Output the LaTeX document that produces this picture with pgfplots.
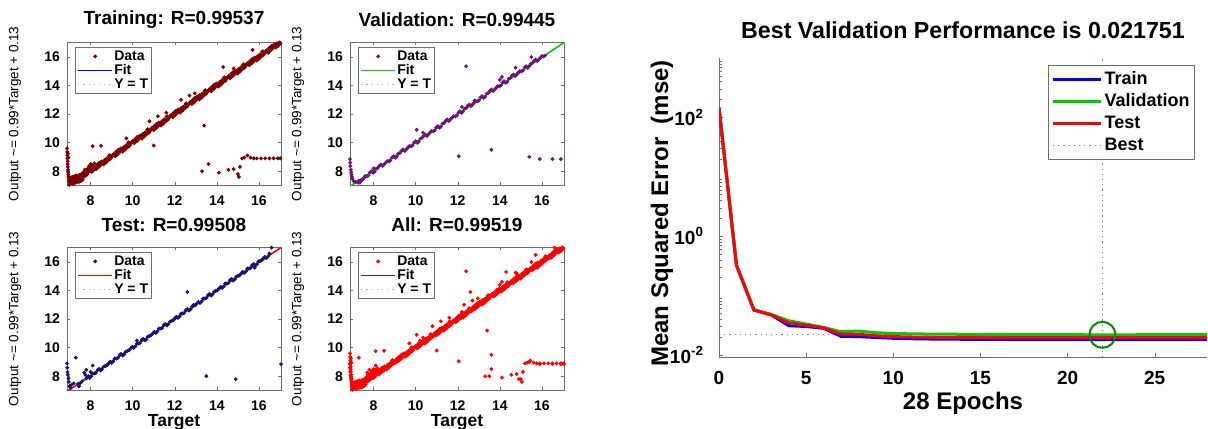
\documentclass[border=0pt]{standalone}
\usepackage{pgfplots}
\pgfplotsset{compat=1.18}
\usepackage{pgfplotstable}
\usepackage{fontspec}
\setmainfont{Liberation Sans}
\definecolor{trdata}{RGB}{128,0,0}
\definecolor{vadata}{RGB}{110,20,120}
\definecolor{tedata}{RGB}{20,20,120}
\definecolor{aldata}{RGB}{255,0,0}
\definecolor{mgreen}{RGB}{0,205,0}
\definecolor{bestgreen}{RGB}{0,140,0}
\definecolor{axgray}{RGB}{110,110,110}

\pgfplotstableread[row sep=\\]{x y\\
6.88 9.60\\ 6.89 9.35\\ 6.90 9.10\\ 6.90 8.90\\ 6.91 8.70\\ 6.91 8.50\\ 6.92 8.30\\ 6.93 8.10\\ 6.93 7.95\\ 6.94 7.80\\
6.95 7.65\\ 6.96 7.50\\ 6.97 7.38\\ 6.98 7.25\\ 7.00 7.15\\ 7.02 7.22\\ 7.05 7.32\\ 7.08 7.16\\ 7.10 7.26\\ 7.12 7.42\\
7.15 7.20\\ 7.18 7.36\\ 7.20 7.50\\ 7.22 7.28\\ 7.25 7.44\\ 7.28 7.60\\ 7.30 7.30\\ 7.33 7.48\\ 7.35 7.26\\ 7.38 7.56\\
7.40 7.40\\ 7.42 7.66\\ 7.45 7.36\\ 7.48 7.58\\ 7.50 7.72\\ 7.52 7.46\\ 7.55 7.63\\ 7.58 7.82\\ 7.60 7.56\\ 7.63 7.76\\
7.66 7.92\\ 7.70 7.72\\ 7.73 7.90\\ 7.76 8.06\\ 7.80 7.86\\ 7.83 8.02\\ 7.87 8.18\\ 7.90 7.96\\ 7.94 8.12\\ 7.98 8.28\\
8.02 8.06\\ 8.06 8.22\\ 8.10 8.42\\ 8.15 8.20\\
7.03 7.40\\ 7.07 7.55\\ 7.13 7.60\\ 7.17 7.12\\ 7.23 7.65\\ 7.27 7.18\\ 7.32 7.70\\ 7.37 7.40\\ 7.43 7.22\\ 7.47 7.75\\
7.53 7.30\\ 7.57 7.50\\ 7.62 7.40\\ 7.68 7.60\\ 7.72 8.10\\ 7.78 7.70\\ 7.85 7.80\\ 7.92 8.35\\ 8.00 8.50\\ 8.05 7.95\\
8.12 8.05\\ 8.18 8.55\\ 6.99 7.05\\ 6.95 8.95\\ 6.92 9.25\\
8.20 8.30\\ 8.27 8.15\\ 8.34 8.38\\ 8.41 8.59\\ 8.48 8.43\\ 8.55 8.63\\ 8.62 8.47\\ 8.69 8.71\\ 8.76 8.88\\ 8.83 8.75\\
8.90 9.12\\ 8.97 8.95\\ 9.04 9.10\\ 9.11 9.21\\ 9.18 9.06\\ 9.25 9.29\\ 9.32 9.50\\ 9.39 9.34\\ 9.46 9.54\\ 9.53 9.38\\
9.60 9.62\\ 9.67 9.79\\ 9.74 9.66\\ 9.81 10.03\\ 9.88 9.86\\ 9.95 10.01\\ 10.02 10.12\\ 10.09 9.97\\ 10.16 10.20\\ 10.23 10.41\\
10.30 10.25\\ 10.37 10.45\\ 10.44 10.29\\ 10.51 10.53\\ 10.58 10.70\\ 10.65 10.57\\ 10.72 10.94\\ 10.79 10.77\\ 10.86 10.92\\ 10.93 11.03\\
11.00 10.88\\ 11.07 11.11\\ 11.14 11.32\\ 11.21 11.16\\ 11.28 11.36\\ 11.35 11.20\\ 11.42 11.44\\ 11.49 11.61\\ 11.56 11.48\\ 11.63 11.85\\
11.70 11.68\\ 11.77 11.83\\ 11.84 11.94\\ 11.91 11.79\\ 11.98 12.02\\ 12.05 12.23\\ 12.12 12.07\\ 12.19 12.27\\ 12.26 12.11\\ 12.33 12.35\\
12.40 12.52\\ 12.47 12.39\\ 12.54 12.76\\ 12.61 12.59\\ 12.68 12.74\\ 12.75 12.85\\ 12.82 12.70\\ 12.89 12.93\\ 12.96 13.14\\ 13.03 12.98\\
13.10 13.18\\ 13.17 13.02\\ 13.24 13.26\\ 13.31 13.43\\ 13.38 13.30\\ 13.45 13.67\\ 13.52 13.50\\ 13.59 13.65\\ 13.66 13.76\\ 13.73 13.61\\
13.80 13.84\\ 13.87 14.05\\ 13.94 13.89\\ 14.01 14.09\\ 14.08 13.93\\ 14.15 14.17\\ 14.22 14.34\\ 14.29 14.21\\ 14.36 14.58\\ 14.43 14.41\\
14.50 14.56\\ 14.57 14.67\\ 14.64 14.52\\ 14.71 14.75\\ 14.78 14.96\\ 14.85 14.80\\ 14.92 15.00\\ 14.99 14.84\\ 15.06 15.08\\ 15.13 15.25\\
15.20 15.12\\ 15.27 15.49\\ 15.34 15.32\\ 15.41 15.47\\ 15.48 15.58\\ 15.55 15.43\\ 15.62 15.66\\ 15.69 15.87\\ 15.76 15.71\\ 15.83 15.91\\
15.90 15.75\\ 15.97 15.99\\ 16.04 16.16\\ 16.11 16.03\\ 16.18 16.40\\ 16.25 16.23\\ 16.32 16.38\\ 16.39 16.49\\ 16.46 16.34\\ 16.53 16.57\\
16.60 16.78\\ 16.67 16.62\\ 16.74 16.82\\ 16.81 16.66\\ 16.88 16.90\\ 16.95 16.98\\ 17.02 16.94\\
8.24 8.18\\ 8.31 8.45\\ 8.38 8.28\\ 8.45 8.52\\ 8.52 8.68\\ 8.59 8.55\\ 8.66 8.77\\ 8.73 8.60\\ 8.80 8.85\\ 8.87 9.06\\
8.94 8.87\\ 9.01 9.02\\ 9.08 9.17\\ 9.15 9.09\\ 9.22 9.36\\ 9.29 9.19\\ 9.36 9.43\\ 9.43 9.59\\ 9.50 9.46\\ 9.57 9.68\\
9.64 9.51\\ 9.71 9.76\\ 9.78 9.97\\ 9.85 9.78\\ 9.92 9.93\\ 9.99 10.08\\ 10.06 10.00\\ 10.13 10.27\\ 10.20 10.10\\ 10.27 10.34\\
10.34 10.50\\ 10.41 10.37\\ 10.48 10.59\\ 10.55 10.42\\ 10.62 10.67\\ 10.69 10.88\\ 10.76 10.69\\ 10.83 10.84\\ 10.90 10.99\\ 10.97 10.91\\
11.04 11.18\\ 11.11 11.01\\ 11.18 11.25\\ 11.25 11.41\\ 11.32 11.28\\ 11.39 11.50\\ 11.46 11.33\\ 11.53 11.58\\ 11.60 11.79\\ 11.67 11.60\\
11.74 11.75\\ 11.81 11.90\\ 11.88 11.82\\ 11.95 12.09\\ 12.02 11.92\\ 12.09 12.16\\ 12.16 12.32\\ 12.23 12.19\\ 12.30 12.41\\ 12.37 12.24\\
12.44 12.49\\ 12.51 12.70\\ 12.58 12.51\\ 12.65 12.66\\ 12.72 12.81\\ 12.79 12.73\\ 12.86 13.00\\ 12.93 12.83\\ 13.00 13.07\\ 13.07 13.23\\
13.14 13.10\\ 13.21 13.32\\ 13.28 13.15\\ 13.35 13.40\\ 13.42 13.61\\ 13.49 13.42\\ 13.56 13.57\\ 13.63 13.72\\ 13.70 13.64\\ 13.77 13.91\\
13.84 13.74\\ 13.91 13.98\\ 13.98 14.14\\ 14.05 14.01\\ 14.12 14.23\\ 14.19 14.06\\ 14.26 14.31\\ 14.33 14.52\\ 14.40 14.33\\ 14.47 14.48\\
14.54 14.63\\ 14.61 14.55\\ 14.68 14.82\\ 14.75 14.65\\ 14.82 14.89\\ 14.89 15.05\\ 14.96 14.92\\ 15.03 15.14\\ 15.10 14.97\\ 15.17 15.22\\
15.24 15.43\\ 15.31 15.24\\ 15.38 15.39\\ 15.45 15.54\\ 15.52 15.46\\ 15.59 15.73\\ 15.66 15.56\\ 15.73 15.80\\ 15.80 15.96\\ 15.87 15.83\\
15.94 16.05\\ 16.01 15.88\\ 16.08 16.13\\ 16.15 16.34\\ 16.22 16.15\\ 16.29 16.30\\ 16.36 16.45\\ 16.43 16.37\\ 16.50 16.64\\ 16.57 16.47\\
16.64 16.71\\ 16.71 16.87\\ 16.78 16.74\\ 16.85 16.96\\ 16.92 16.79\\ 16.99 17.02\\
8.10 9.75\\ 8.50 9.78\\ 9.70 10.30\\ 10.80 11.50\\ 11.00 9.80\\ 11.20 11.85\\ 12.30 13.00\\ 12.70 13.30\\ 12.95 13.45\\ 13.20 13.35\\
13.40 11.20\\ 13.30 8.00\\ 13.60 8.50\\ 14.10 7.90\\ 14.55 8.10\\ 14.80 8.15\\ 15.00 7.80\\ 15.05 7.60\\ 15.10 8.30\\ 15.20 8.90\\
15.30 8.95\\ 15.45 9.10\\ 15.60 8.95\\ 15.75 8.90\\ 15.90 8.90\\ 16.10 8.90\\ 16.30 8.90\\ 16.50 8.90\\ 16.70 8.90\\ 16.90 8.90\\
17.02 8.90\\ 14.30 15.30\\ 15.70 16.50\\ 16.45 16.30\\ 11.60 12.10\\ 14.80 15.20\\
}\traindata

\pgfplotstableread[row sep=\\]{x y\\
6.88 8.85\\ 6.89 8.60\\ 6.90 8.35\\ 6.92 8.10\\ 6.93 7.90\\ 6.95 7.75\\ 6.97 7.60\\ 7.00 7.45\\ 7.05 7.30\\ 7.15 7.25\\
7.25 7.20\\ 7.30 7.35\\ 7.35 7.20\\ 7.40 7.30\\ 7.45 7.40\\ 7.50 7.45\\ 7.55 7.55\\
7.60 7.66\\ 7.75 7.70\\ 7.90 8.00\\ 8.05 7.97\\ 8.20 8.23\\ 8.35 8.47\\ 8.50 8.47\\ 8.65 8.71\\ 8.80 8.75\\ 8.95 9.05\\
9.10 9.02\\ 9.25 9.28\\ 9.40 9.52\\ 9.55 9.52\\ 9.70 9.76\\ 9.85 9.80\\ 10.00 10.10\\ 10.15 10.07\\ 10.30 10.33\\ 10.45 10.57\\
10.60 10.57\\ 10.75 10.81\\ 10.90 10.85\\ 11.05 11.15\\ 11.20 11.12\\ 11.35 11.38\\ 11.50 11.62\\ 11.65 11.62\\ 11.80 11.86\\ 11.95 11.90\\
12.10 12.20\\ 12.25 12.17\\ 12.40 12.43\\ 12.55 12.67\\ 12.70 12.67\\ 12.85 12.91\\ 13.00 12.95\\ 13.15 13.25\\ 13.30 13.22\\ 13.45 13.48\\
13.60 13.72\\ 13.75 13.72\\ 13.90 13.96\\ 14.05 14.00\\ 14.20 14.30\\ 14.35 14.27\\ 14.50 14.53\\ 14.65 14.77\\ 14.80 14.77\\ 14.95 15.01\\
15.10 15.05\\ 15.25 15.35\\ 15.40 15.37\\ 15.55 15.58\\ 15.70 15.82\\ 15.85 15.82\\ 16.00 16.06\\ 16.15 16.10\\
7.68 7.64\\ 7.83 7.91\\ 7.98 7.89\\ 8.13 8.18\\ 8.28 8.39\\ 8.43 8.37\\ 8.58 8.60\\ 8.73 8.69\\ 8.88 8.96\\ 9.03 8.94\\
9.18 9.23\\ 9.33 9.44\\ 9.48 9.42\\ 9.63 9.65\\ 9.78 9.74\\ 9.93 10.01\\ 10.08 9.99\\ 10.23 10.28\\ 10.38 10.49\\ 10.53 10.47\\
10.68 10.70\\ 10.83 10.79\\ 10.98 11.06\\ 11.13 11.04\\ 11.28 11.33\\ 11.43 11.54\\ 11.58 11.52\\ 11.73 11.75\\ 11.88 11.84\\ 12.03 12.11\\
12.18 12.09\\ 12.33 12.38\\ 12.48 12.59\\ 12.63 12.57\\ 12.78 12.80\\ 12.93 12.89\\ 13.08 13.16\\ 13.23 13.14\\ 13.38 13.43\\ 13.53 13.64\\
13.68 13.62\\ 13.83 13.85\\ 13.98 13.94\\ 14.13 14.21\\ 14.28 14.19\\ 14.43 14.48\\ 14.58 14.69\\ 14.73 14.67\\ 14.88 14.90\\ 15.03 14.99\\
15.18 15.26\\ 15.33 15.24\\ 15.48 15.53\\ 15.63 15.74\\ 15.78 15.72\\ 15.93 15.95\\ 16.08 16.04\\
12.05 9.05\\ 13.60 9.50\\ 15.40 9.00\\ 15.90 8.85\\ 16.50 8.85\\ 16.90 8.85\\ 12.40 15.35\\ 14.00 14.40\\ 14.10 14.60\\ 15.50 16.00\\
10.05 10.90\\ 10.35 10.70\\ 12.20 12.50\\ 14.75 15.25\\ 12.80 12.95\\ 8.00 8.20\\
}\valdata

\pgfplotstableread[row sep=\\]{x y\\
6.88 8.90\\ 6.89 8.60\\ 6.90 8.30\\ 6.92 8.10\\ 6.95 7.85\\ 6.97 7.60\\ 7.00 7.30\\ 7.05 7.20\\ 7.10 7.40\\ 7.20 7.50\\
7.30 9.30\\ 7.40 7.45\\ 7.45 7.30\\ 7.50 7.50\\ 7.60 7.65\\ 7.70 8.25\\ 7.75 8.10\\ 7.80 8.45\\ 7.90 8.00\\ 8.10 8.75\\ 8.00 8.30\\
7.80 7.84\\ 7.95 7.88\\ 8.10 8.19\\ 8.25 8.23\\ 8.40 8.51\\ 8.55 8.49\\ 8.70 8.72\\ 8.85 8.89\\ 9.00 8.93\\ 9.15 9.24\\
9.30 9.28\\ 9.45 9.56\\ 9.60 9.54\\ 9.75 9.77\\ 9.90 9.94\\ 10.05 9.98\\ 10.20 10.29\\ 10.35 10.33\\ 10.50 10.61\\ 10.65 10.59\\
10.80 10.82\\ 10.95 10.99\\ 11.10 11.03\\ 11.25 11.34\\ 11.40 11.38\\ 11.55 11.66\\ 11.70 11.64\\ 11.85 11.87\\ 12.00 12.04\\ 12.15 12.08\\
12.30 12.39\\ 12.45 12.43\\ 12.60 12.71\\ 12.75 12.69\\ 12.90 12.92\\ 13.05 13.09\\ 13.20 13.13\\ 13.35 13.44\\ 13.50 13.48\\ 13.65 13.76\\
13.80 13.74\\ 13.95 13.97\\ 14.10 14.14\\ 14.25 14.18\\ 14.40 14.49\\ 14.55 14.53\\ 14.70 14.81\\ 14.85 14.79\\ 15.00 15.02\\ 15.15 15.19\\
15.30 15.23\\ 15.45 15.54\\ 15.60 15.58\\ 15.75 15.86\\ 15.90 15.84\\ 16.05 16.07\\ 16.20 16.24\\ 16.35 16.28\\ 16.50 16.59\\
7.88 7.96\\ 8.03 7.99\\ 8.18 8.19\\ 8.33 8.43\\ 8.48 8.40\\ 8.63 8.68\\ 8.78 8.77\\ 8.93 9.01\\ 9.08 9.04\\ 9.23 9.24\\
9.38 9.48\\ 9.53 9.45\\ 9.68 9.73\\ 9.83 9.82\\ 9.98 10.06\\ 10.13 10.09\\ 10.28 10.29\\ 10.43 10.53\\ 10.58 10.50\\ 10.73 10.78\\
10.88 10.87\\ 11.03 11.11\\ 11.18 11.14\\ 11.33 11.34\\ 11.48 11.58\\ 11.63 11.55\\ 11.78 11.83\\ 11.93 11.92\\ 12.08 12.16\\ 12.23 12.19\\
12.38 12.39\\ 12.53 12.63\\ 12.68 12.60\\ 12.83 12.88\\ 12.98 12.97\\ 13.13 13.21\\ 13.28 13.24\\ 13.43 13.44\\ 13.58 13.68\\ 13.73 13.65\\
13.88 13.93\\ 14.03 14.02\\ 14.18 14.26\\ 14.33 14.29\\ 14.48 14.49\\ 14.63 14.73\\ 14.78 14.70\\ 14.93 14.98\\ 15.08 15.07\\ 15.23 15.31\\
15.38 15.34\\ 15.53 15.54\\ 15.68 15.78\\ 15.83 15.75\\ 15.98 16.03\\ 16.13 16.12\\ 16.28 16.36\\ 16.43 16.39\\
12.60 13.90\\ 13.50 8.00\\ 14.90 7.80\\ 17.05 8.85\\ 15.80 15.60\\ 16.60 17.00\\ 10.20 10.50\\ 12.90 13.00\\
}\testdata

\pgfplotstableread[row sep=\\]{ep train val test\\
0 145 145 145\\
1 0.325 0.330 0.325\\
2 0.057 0.058 0.057\\
3 0.047 0.048 0.047\\
4 0.031 0.0375 0.0347\\
5 0.030 0.033 0.0316\\
6 0.028 0.029 0.0286\\
7 0.0205 0.0245 0.0224\\
8 0.0203 0.0252 0.0222\\
9 0.0196 0.0236 0.0210\\
10 0.0190 0.0229 0.0203\\
11 0.0187 0.0226 0.0200\\
12 0.0185 0.0224 0.0198\\
13 0.0184 0.0223 0.0197\\
14 0.0183 0.0222 0.0197\\
15 0.0182 0.0221 0.0196\\
16 0.0182 0.0221 0.0196\\
17 0.0181 0.0220 0.0196\\
18 0.0181 0.0220 0.0195\\
19 0.0181 0.0219 0.0195\\
20 0.0180 0.0219 0.0195\\
21 0.0180 0.0218 0.0195\\
22 0.0180 0.021751 0.0195\\
23 0.0180 0.02178 0.0195\\
24 0.0180 0.02181 0.0195\\
25 0.0180 0.02183 0.0195\\
26 0.0180 0.02185 0.0195\\
27 0.0180 0.02187 0.0195\\
28 0.0180 0.02190 0.0195\\
}\perfdata

\pgfplotsset{
  regr/.style={
    anchor=south west, scale only axis, width=107pt, height=71.75pt,
    xmin=6.88, xmax=17.05, ymin=7.0, ymax=17.05,
    xtick={8,10,12,14,16}, ytick={8,10,12,14,16},
    tick align=inside, major tick length=1.6pt,
    axis line style={axgray}, tick style={axgray},
    /pgf/number format/assume math mode=true,
    ticklabel style={font=\fontsize{7}{8}\selectfont\bfseries},
    xticklabel style={yshift=-1.5pt},
    ylabel={Output \textasciitilde= 0.99*Target + 0.13},
    ylabel style={at={(axis description cs:-0.243,0.5)}, anchor=center, font=\fontsize{6.75}{8}\selectfont},
    title style={at={(axis description cs:0.5,1)}, anchor=center, yshift=5pt, font=\fontsize{9.5}{11}\selectfont\bfseries},
    xlabel style={at={(axis description cs:0.5,0)}, anchor=center, yshift=-16pt, font=\fontsize{8.75}{10}\selectfont\bfseries},
    legend style={at={(axis description cs:0.037,0.965)}, anchor=north west, draw=axgray,
      font=\fontsize{7}{7}\selectfont\bfseries, inner sep=1pt,
      nodes={inner sep=0.6pt, text height=5pt, text depth=0.8pt}},
    legend cell align=left,
  },
  dat/.style={only marks, mark=*, mark size=0.75pt, #1},
}

\begin{document}
\begin{tikzpicture}
\path[use as bounding box] (0,0) rectangle (604pt,214pt);

% Training
\begin{axis}[regr, at={(33.5pt,121.25pt)}, title={Training: R=0.99537}]
\addlegendimage{dat=trdata}
\addlegendimage{blue, line width=0.8pt}
\addlegendimage{gray!60, dotted, line width=0.6pt}
\addplot[gray!60, dotted, line width=0.6pt, forget plot] coordinates {(6.88,6.88) (17.05,17.05)};
\addplot[blue, line width=0.8pt, forget plot] coordinates {(6.88,6.94) (17.05,17.01)};
\addplot[dat=trdata, forget plot] table[x=x,y=y] {\traindata};
\legend{Data, Fit, Y = T}
\end{axis}

% Validation
\begin{axis}[regr, at={(175pt,121.25pt)}, title={Validation: R=0.99445}]
\addlegendimage{dat=vadata}
\addlegendimage{mgreen, line width=0.8pt}
\addlegendimage{gray!60, dotted, line width=0.6pt}
\addplot[gray!60, dotted, line width=0.6pt, forget plot] coordinates {(6.88,6.88) (17.05,17.05)};
\addplot[mgreen, line width=0.8pt, forget plot] coordinates {(6.88,6.94) (17.05,17.01)};
\addplot[dat=vadata, forget plot] table[x=x,y=y] {\valdata};
\legend{Data, Fit, Y = T}
\end{axis}

% Test
\begin{axis}[regr, at={(33.5pt,18.75pt)}, title={Test: R=0.99508}, xlabel={Target}]
\addlegendimage{dat=tedata}
\addlegendimage{red, line width=0.8pt}
\addlegendimage{gray!60, dotted, line width=0.6pt}
\addplot[gray!60, dotted, line width=0.6pt, forget plot] coordinates {(6.88,6.88) (17.05,17.05)};
\addplot[red, line width=0.8pt, forget plot] coordinates {(6.88,6.94) (17.05,17.01)};
\addplot[dat=tedata, forget plot] table[x=x,y=y] {\testdata};
\legend{Data, Fit, Y = T}
\end{axis}

% All
\begin{axis}[regr, at={(175pt,18.75pt)}, title={All: R=0.99519}, xlabel={Target}]
\addlegendimage{dat=aldata}
\addlegendimage{black!80, line width=0.8pt}
\addlegendimage{gray!60, dotted, line width=0.6pt}
\addplot[gray!60, dotted, line width=0.6pt, forget plot] coordinates {(6.88,6.88) (17.05,17.05)};
\addplot[black!80, line width=0.8pt, forget plot] coordinates {(6.88,6.94) (17.05,17.01)};
\addplot[dat=aldata, forget plot] table[x=x,y=y] {\traindata};
\addplot[dat=aldata, forget plot] table[x=x,y=y] {\valdata};
\addplot[dat=aldata, forget plot] table[x=x,y=y] {\testdata};
\legend{Data, Fit, Y = T}
\end{axis}

% Performance
\begin{axis}[
  at={(359.5pt,35.5pt)}, anchor=south west, scale only axis, width=244pt, height=149.5pt,
  xmin=0, xmax=28, ymode=log, ymin=0.0092, ymax=1000,
  axis x line*=bottom, axis y line*=left,
  hide obscured x ticks=false, hide obscured y ticks=false,
  axis line style={axgray}, tick style={axgray},
  tick align=inside, major tick length=2.2pt, minor tick length=1.3pt,
  xtick={0,5,10,15,20,25},
  ytick={0.01,1,100},
  yticklabels={10\textsuperscript{-2},10\textsuperscript{0},10\textsuperscript{2}},
  minor ytick={0.02,0.03,0.04,0.05,0.06,0.07,0.08,0.09,0.2,0.3,0.4,0.5,0.6,0.7,0.8,0.9,2,3,4,5,6,7,8,9,20,30,40,50,60,70,80,90,200,300,400,500,600,700,800,900},
  /pgf/number format/assume math mode=true,
  ticklabel style={font=\fontsize{9.5}{11}\selectfont\bfseries},
  xticklabel style={yshift=-3.5pt},
  yticklabel style={xshift=-4pt},
  title={Best Validation Performance is 0.021751},
  title style={at={(axis description cs:0.5,1)}, anchor=center, yshift=8pt, font=\fontsize{11.6}{13}\selectfont\bfseries},
  xlabel={28 Epochs},
  xlabel style={at={(axis description cs:0.5,0)}, anchor=center, yshift=-23pt, font=\fontsize{12}{14}\selectfont\bfseries},
  ylabel={Mean Squared Error\ \ (mse)},
  ylabel style={at={(axis description cs:-0.117,0.48)}, anchor=center, font=\fontsize{12}{14}\selectfont\bfseries},
  legend style={at={(axis description cs:0.9754,0.9766)}, anchor=north east, draw=axgray,
    font=\fontsize{9}{10}\selectfont\bfseries, inner sep=1.5pt,
    nodes={inner sep=1pt, text height=7pt, text depth=2pt}},
  legend cell align=left,
  legend image code/.code={\draw[#1] (0pt,0pt) -- (24pt,0pt);},
]
\addlegendimage{blue, line width=1.5pt}
\addlegendimage{mgreen, line width=1.5pt}
\addlegendimage{red, line width=1.5pt}
\addlegendimage{bestgreen!70, dotted, line width=0.6pt}
\addplot[bestgreen!70, dotted, line width=0.6pt, forget plot] coordinates {(22,0.0092) (22,1000)};
\addplot[bestgreen!70, dotted, line width=0.6pt, forget plot] coordinates {(0,0.021751) (22,0.021751)};
\addplot[blue, line width=1.5pt, forget plot] table[x=ep,y=train] {\perfdata};
\addplot[mgreen, line width=1.5pt, forget plot] table[x=ep,y=val] {\perfdata};
\addplot[red, line width=1.5pt, forget plot] table[x=ep,y=test] {\perfdata};
\addplot[only marks, mark=o, mark size=6.5pt, bestgreen, line width=1pt, forget plot] coordinates {(22,0.021751)};
\legend{Train, Validation, Test, Best}
\end{axis}
\end{tikzpicture}
\end{document}
